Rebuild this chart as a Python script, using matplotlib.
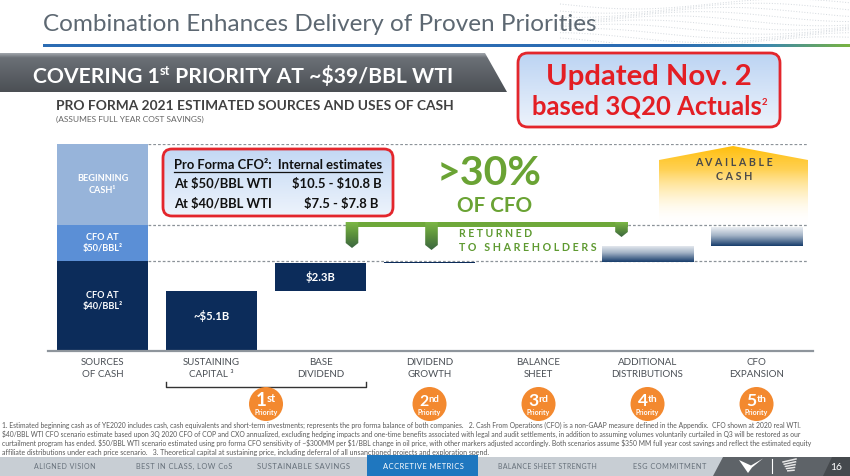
import numpy as np
import matplotlib
matplotlib.use("Agg")
import matplotlib.pyplot as plt
from matplotlib.patches import Polygon, Rectangle, FancyBboxPatch, Circle
from matplotlib.colors import to_rgba

plt.rcParams["text.parse_math"] = False
FONT = ["Lato", "DejaVu Sans"]
plt.rcParams["font.family"] = FONT

# ---------------- data ----------------
categories = ["SOURCES\nOF CASH", "SUSTAINING\nCAPITAL \u00b3", "BASE\nDIVIDEND", "DIVIDEND\nGROWTH",
              "BALANCE\nSHEET", "ADDITIONAL\nDISTRIBUTIONS", "CFO\nEXPANSION"]
source_labels = ["CFO AT\n$40/BBL\u00b2", "CFO AT\n$50/BBL\u00b2", "BEGINNING\nCASH\u00b9"]
source_values = [7.65, 3.00, 6.85]            # $B stacked in "sources of cash"
use_values = [5.1, 2.3, 0.13, 0.0, 1.38, 1.57]  # $B waterfall of uses (categories 1..6)
use_labels = ["~$5.1B", "$2.3B", "", "", "", ""]
priority_labels = [("1", "st"), ("2", "nd"), ("3", "rd"), ("4", "th"), ("5", "th")]
priority_groups = [[1, 2], [3], [4], [5], [6]]
cfo_header = "Pro Forma CFO\u00b2:  Internal estimates"
cfo_scenarios = ["At $50/BBL WTI", "At $40/BBL WTI"]
cfo_ranges = ["$10.5 - $10.8 B", "$7.5 - $7.8 B"]
nav_items = ["ALIGNED VISION", "BEST IN CLASS, LOW CoS", "SUSTAINABLE SAVINGS",
             "ACCRETIVE METRICS", "BALANCE SHEET STRENGTH", "ESG COMMITMENT"]
footnotes = [
    "1. Estimated beginning cash as of YE2020 includes cash, cash equivalents and short-term investments; represents the pro forma balance of both companies.   2. Cash From Operations (CFO) is a non-GAAP measure defined in the Appendix.  CFO shown at 2020 real WTI.",
    "$40/BBL WTI CFO scenario estimate based upon 3Q 2020 CFO of COP and CXO annualized, excluding hedging impacts and one-time benefits associated with legal and audit settlements, in addition to assuming volumes voluntarily curtailed in Q3 will be restored as our",
    "curtailment program has ended. $50/BBL WTI scenario estimated using pro forma CFO sensitivity of ~$300MM per $1/BBL change in oil price, with other markers adjusted accordingly. Both scenarios assume $350 MM full year cost savings and reflect the estimated equity",
    "affiliate distributions under each price scenario.   3. Theoretical capital at sustaining price, including deferral of all unsanctioned projects and exploration spend.",
]

# ---------------- style ----------------
NAVY = "#0c2c5a"
SRC_COLORS = [NAVY, "#5b8fd6", "#97b4da"]
GREEN = "#6aa334"
ORANGE = "#f3892f"
GRADIENT_USES = {5, 6}

W, H = 850, 476
fig = plt.figure(figsize=(W / 100, H / 100), dpi=100)
fig.patch.set_facecolor("white")
R = fig.canvas.get_renderer()


def px_axes(z):
    a = fig.add_axes([0, 0, 1, 1], zorder=z)
    a.set_xlim(0, W)
    a.set_ylim(H, 0)
    a.set_autoscale_on(False)
    a.axis("off")
    return a


bg = px_axes(0)
ax = fig.add_axes([48 / W, (H - 351) / H, (813 - 48) / W, (351 - 144) / H], zorder=1)
ov = px_axes(2)


def width_of(a, s, size, **kw):
    t = a.text(0, 0, s, fontsize=size, **kw)
    w = t.get_window_extent(R).width
    t.remove()
    return w


def fit(a, s, width, base=10, **kw):
    return base * width / width_of(a, s, base, **kw)


def txt(a, x, y, s, width, **kw):
    mkw = {k: v for k, v in kw.items() if k in ("weight", "family")}
    return a.text(x, y, s, fontsize=fit(a, s, width, **mkw), **kw)


def runs(a, x, y, parts, ha="left", width=None, **kw):
    def build(k):
        ts, ws = [], []
        for s, sz, dy in parts:
            t = a.text(0, y + dy, s, fontsize=sz * k, ha="left", va="baseline", **kw)
            ts.append(t)
            ws.append(t.get_window_extent(R).width)
        return ts, ws
    ts, ws = build(1.0)
    if width is not None:
        k = width / sum(ws)
        for t in ts:
            t.remove()
        ts, ws = build(k)
    tot = sum(ws)
    x0 = x - tot / 2 if ha == "center" else (x - tot if ha == "right" else x)
    for t, w in zip(ts, ws):
        t.set_x(x0)
        x0 += w


def grad(a, extent, colors, stops=None, vertical=True, clip=None, z=1, n=200):
    cols = np.array([to_rgba(c) if isinstance(c, str) else c for c in colors])
    if stops is None:
        stops = np.linspace(0, 1, len(cols))
    f = np.linspace(0, 1, n)
    arr = np.stack([np.interp(f, stops, cols[:, i]) for i in range(4)], axis=-1)
    arr = arr[:, None, :] if vertical else arr[None, :, :]
    im = a.imshow(arr, extent=extent, origin="upper", aspect="auto",
                  interpolation="bilinear", zorder=z)
    if clip is not None:
        im.set_clip_path(clip)
    return im


def round_box(a, x0, y0, x1, y1, r, top, bot, ec="#e3262c", lw=2):
    p = FancyBboxPatch((x0, y0), x1 - x0, y1 - y0,
                       boxstyle=f"round,pad=0,rounding_size={r}",
                       fc="none", ec=ec, lw=lw, zorder=3)
    a.add_patch(p)
    grad(a, (x0, x1, y1, y0), [top, bot], clip=p, z=2)


def spaced(s, sep=" "):
    return sep.join(list(s))


# ---------------- header ----------------
xs = np.linspace(560, 850, 400)
for k in range(10):
    ys = 4 + k * 4.2 + 5 * np.sin((xs - 560) / 48 + k * 0.6)
    m = ys < 43
    bg.plot(np.where(m, xs, np.nan), ys, color="#d3d8dd", lw=0.7, ls=(0, (1, 1.8)), zorder=1)

txt(bg, 43, 31, "Combination Enhances Delivery of Proven Priorities", 554,
    color="#5d6872", va="baseline", zorder=3)
grad(bg, (43, 850, 47.3, 45.0), ["#2b6cb3", "#2b6cb3", "#3c88ad", "#78b243"],
     stops=[0, 0.78, 0.9, 1], vertical=False, z=2)

ban = Polygon([(0, 53), (485, 53), (507, 92), (0, 92)], closed=True, fc="none", ec="none")
bg.add_patch(ban)
grad(bg, (0, 507, 92, 53), ["#a2a7ad", "#6b7076", "#4b4f54"], stops=[0, 0.12, 1], clip=ban, z=2)
runs(bg, 33, 83, [("COVERING 1", 20, 0), ("st", 12, -8), (" PRIORITY AT ~$39/BBL WTI", 20, 0)],
     width=420, color="white", weight="bold", zorder=3)

round_box(bg, 518, 53, 780, 127, 10, "#bcd4f3", "#edf3fc")
txt(bg, 649, 85, "Updated Nov. 2", 207, color="#e31e24", weight="bold", ha="center",
    va="baseline", zorder=4)
runs(bg, 650, 115, [("based 3Q20 Actuals", 24, 0), ("2", 9, -10)], ha="center", width=236,
     color="#e31e24", weight="bold", zorder=4)

txt(bg, 56, 110, "PRO FORMA 2021 ESTIMATED SOURCES AND USES OF CASH", 396,
    weight="bold", color="#404040", va="baseline", zorder=3)
txt(bg, 56, 122, "(ASSUMES FULL YEAR COST SAVINGS)", 147, color="#666666", va="baseline", zorder=3)

# ---------------- chart ----------------
ax.set_xlim(-0.5, 6.518)
ax.set_ylim(0, 17.5)
ax.set_autoscale_on(False)
ax.patch.set_alpha(0)
for s in ("left", "right", "top"):
    ax.spines[s].set_visible(False)
ax.spines["bottom"].set_color("#8e959c")
ax.spines["bottom"].set_linewidth(1.6)
ax.set_yticks([])
bw = 91 / 109

src_size = fit(ax, "BEGINNING", 51, weight="bold")
base = 0.0
for v, c, lab in zip(source_values, SRC_COLORS, source_labels):
    ax.bar(0, v, bw, bottom=base, color=c, lw=0, zorder=2)
    off = 3.6 if base == 0 else 0
    ax.annotate(lab, (0, base + v / 2), xytext=(0, off), textcoords="offset points",
                ha="center", va="center", color="white", weight="bold",
                fontsize=src_size, linespacing=1.35, zorder=3)
    base += v

levels = np.cumsum(source_values)
ax.hlines(levels, bw / 2, 6.472, colors="#8c9399", linestyles=(0, (2.2, 1.6)), lw=0.9, zorder=1)

lab_size = fit(ax, "~$5.1B", 36, weight="bold")
cum = 0.0
for i, (v, lab) in enumerate(zip(use_values, use_labels), start=1):
    if v > 0:
        rect = ax.bar(i, v, bw, bottom=cum, color=NAVY, lw=0, zorder=2)[0]
        if i in GRADIENT_USES:
            rect.set_facecolor("none")
            grad(ax, (i - bw / 2, i + bw / 2, cum, cum + v),
                 ["#eceff3", "#a3b3c6", "#163c6b"], stops=[0, 0.45, 1], clip=rect, z=2)
        if lab:
            off = 3.6 if cum == 0 else 0
            ax.annotate(lab, (i, cum + v / 2), xytext=(0, off), textcoords="offset points",
                        ha="center", va="center", color="white", weight="bold",
                        fontsize=lab_size, zorder=3)
    cum += v

cat_size = fit(ax, "SUSTAINING", 57)
ax.set_xticks(range(len(categories)))
ax.set_xticklabels(categories, fontsize=cat_size, color="#4a4f55", linespacing=1.45)
ax.tick_params(axis="x", length=0, pad=5)


def col_px(i):
    return ax.transData.transform((i, 0))[0]


# ---------------- overlay annotations ----------------
round_box(ov, 163, 149, 393, 216, 9, "#c3d8f4", "#eef4fc")
hs = fit(ov, cfo_header, 208, weight="bold")
ov.text(174, 169, cfo_header, fontsize=hs, weight="bold", va="baseline", color="#111111", zorder=4)
ov.plot([174, 382], [171.8, 171.8], color="#111111", lw=0.9, zorder=4)
for yb, sc, rg, xr in zip([188, 208], cfo_scenarios, cfo_ranges, [382, 378]):
    ov.text(174, yb, sc, fontsize=hs, weight="bold", va="baseline", color="#111111", zorder=4)
    ov.text(xr, yb, rg, fontsize=hs, weight="bold", va="baseline", ha="right",
            color="#111111", zorder=4)

txt(ov, 489.5, 185, ">30%", 105, weight="bold", color=GREEN, ha="center", va="baseline", zorder=4)
txt(ov, 494.5, 212, "OF CFO", 75, weight="bold", color=GREEN, ha="center", va="baseline", zorder=4)

# green bracket
ov.add_patch(Rectangle((346, 222), 628 - 346, 4.5, fc="#6ea83a", ec="none", zorder=3))
for cx, bot in zip([352, 431.5, 621.5], [248, 250, 237]):
    mk = Polygon([(cx - 6.3, 222), (cx + 6.3, 222), (cx + 6.3, bot - 5), (cx, bot), (cx - 6.3, bot - 5)],
                 closed=True, fc="none", ec="none")
    ov.add_patch(mk)
    grad(ov, (cx - 7, cx + 7, bot, 222), ["#7db846", "#5b8f3c", "#3b6540"], clip=mk, z=3)

txt(ov, 459, 237, spaced("RETURNED"), 74, weight="bold", color="#5f9a31", va="baseline", zorder=4)
txt(ov, 459, 251, spaced("TO") + "   " + spaced("SHAREHOLDERS"), 137, weight="bold",
    color="#5f9a31", va="baseline", zorder=4)

# available cash
pent = Polygon([(659, 160), (733, 146), (808, 160), (808, 224), (659, 224)], closed=True,
               fc="none", ec="none")
ov.add_patch(pent)
grad(ov, (659, 808, 224, 146),
     [(1, 0.75, 0.05, 1), (1, 0.80, 0.25, 0.9), (1, 0.90, 0.60, 0.6), (1, 1, 1, 0)],
     stops=[0, 0.3, 0.6, 1], clip=pent, z=2)
txt(ov, 734, 166, spaced("AVAILABLE"), 78, weight="bold", color="#4a4a4a", ha="center",
    va="baseline", zorder=4)
txt(ov, 734, 180, spaced("CASH"), 36, weight="bold", color="#4a4a4a", ha="center",
    va="baseline", zorder=4)

# bracket under 1st priority
xl, xr = col_px(1 - bw / 2), col_px(2 + bw / 2)
ov.plot([xl, xl, xr, xr], [382, 387, 387, 382], color="#333333", lw=1.0, zorder=3)

# priority circles
pr_size = fit(ov, "Priority", 23, weight="bold")
for grp, (num, sup) in zip(priority_groups, priority_labels):
    cx = np.mean([col_px(g) for g in grp])
    ov.add_patch(Circle((cx, 404), 17, fc=ORANGE, ec="none", zorder=3))
    runs(ov, cx, 406.5, [(num, 10, 0), (sup, 6, -4.5)], ha="center", width=20,
         color="white", weight="bold", zorder=4)
    ov.text(cx, 414.5, "Priority", fontsize=pr_size, color="white", weight="bold",
            ha="center", va="baseline", zorder=4)

# footnotes
ov.add_patch(Rectangle((0, 420.8), W, 36.2, fc="white", ec="none", zorder=5))
for yb, line, wd in zip([425.3, 434.3, 443.3, 452.3], footnotes, [795, 793, 805, 485]):
    txt(ov, 2, yb, line, wd, color="#595959", va="center", zorder=6)

# footer bar
bg.add_patch(Rectangle((0, 457), W, 19, fc="#c8ced4", ec="none", zorder=1))
ov.add_patch(Rectangle((367, 455), 111, 21, fc="#1f77bf", ec="none", zorder=6))
for item, cx, wd in zip(nav_items, [65, 184.5, 304, 423, 547.5, 669.5], [60, 95, 92, 80, 99, 73]):
    col = "white" if item == "ACCRETIVE METRICS" else "#66707a"
    txt(ov, cx, 466.5, spaced(item, "\u200a"), wd, color=col, ha="center", va="center", zorder=7)
ov.add_patch(Polygon([(723, 457), (850, 457), (850, 476), (713, 476)], closed=True,
                     fc="#5e6368", ec="none", zorder=6))
ov.add_patch(Polygon([(832, 457), (850, 457), (850, 476), (823, 476)], closed=True,
                     fc="#45494d", ec="none", zorder=6))
ov.text(836, 467, "16", fontsize=7.5, color="white", ha="center", va="center", zorder=7)
ov.add_patch(Polygon([(739, 460), (751, 465.5), (763, 458.5), (752, 467.5), (748, 473)],
                     closed=True, fc="white", ec="none", zorder=7))
ov.plot([772, 772], [459, 473], color="white", lw=0.8, zorder=7)
for k in range(5):
    ov.plot([783 + k * 1.2, 796 - k * 0.5], [462 + k * 2.2, 459 + k * 2.8], color="#e8e8e8",
            lw=1.1, zorder=7)

fig.savefig("out.png", dpi=100, facecolor="white")
